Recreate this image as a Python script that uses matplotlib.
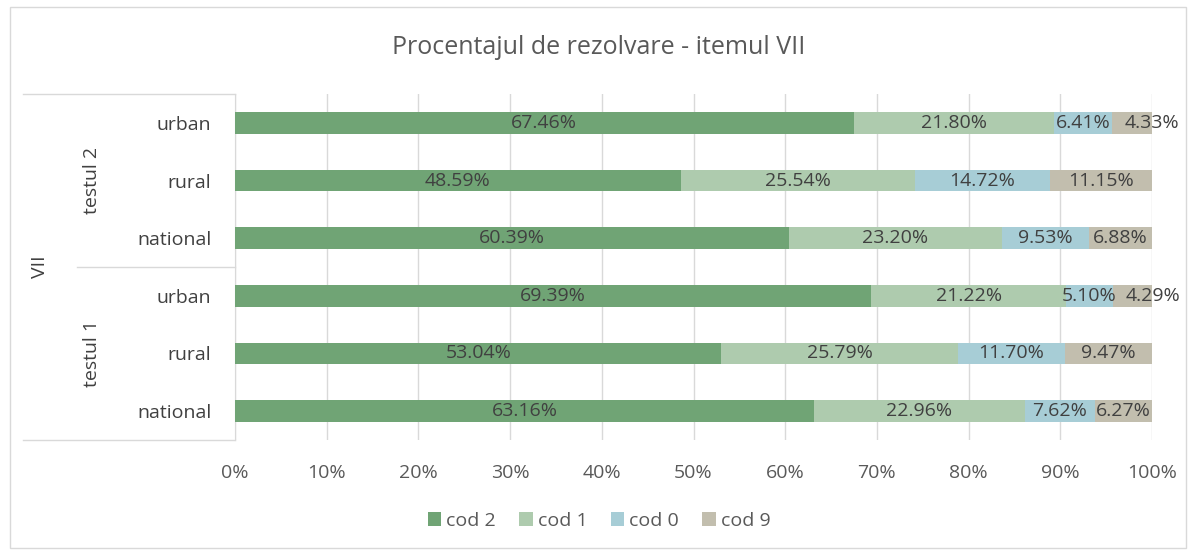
import numpy as np
import matplotlib.pyplot as plt
from matplotlib.lines import Line2D
from matplotlib.patches import Rectangle
import matplotlib.transforms as mtransforms

# categories bottom -> top
categories = ['national', 'rural', 'urban', 'national', 'rural', 'urban']
groups = ['testul 1', 'testul 2']
series = ['cod 2', 'cod 1', 'cod 0', 'cod 9']
cod2 = [63.16, 53.04, 69.39, 60.39, 48.59, 67.46]
cod1 = [22.96, 25.79, 21.22, 23.20, 25.54, 21.80]
cod0 = [7.62, 11.70, 5.10, 9.53, 14.72, 6.41]
cod9 = [6.27, 9.47, 4.29, 6.88, 11.15, 4.33]
colors = ['#70A475', '#AECBAE', '#A7CDD6', '#C2BEAE']

plt.rcParams['font.family'] = ['Open Sans', 'DejaVu Sans']
FS = 14

fig = plt.figure(figsize=(11.98, 5.55), dpi=100)
fig.patches.append(Rectangle((10 / 1198, 7 / 555), 1176 / 1198, 541 / 555,
                             transform=fig.transFigure, fill=False,
                             ec='#D9D9D9', lw=1))
ax = fig.add_axes([235 / 1198, 1 - 440 / 555, 917 / 1198, 346 / 555])

y = np.arange(len(categories))
left = np.zeros(len(categories))
for k, (name, vals, c) in enumerate(zip(series, [cod2, cod1, cod0, cod9], colors)):
    vals = np.array(vals)
    ax.barh(y, vals, left=left, height=0.38, color=c, label=name, zorder=3)
    for yi, l, v in zip(y, left, vals):
        xc = l + v / 2
        # last label pushed outward when segment is too narrow (as Excel does)
        if k == 3 and v < 5:
            xc += 2.2
        ax.text(xc, yi, '%.2f%%' % v, ha='center', va='center',
                fontsize=FS, color='#404040', zorder=4)
    left += vals

ax.set_xlim(0, 100)
ax.set_ylim(-0.5, len(categories) - 0.5)
ax.set_xticks(np.arange(0, 101, 10))
ax.set_xticklabels(['%d%%' % t for t in range(0, 101, 10)], fontsize=FS, color='#595959')
ax.set_yticks(y)
ax.set_yticklabels(categories, fontsize=FS, color='#404040')
ax.tick_params(axis='both', length=0)
ax.tick_params(axis='x', pad=17)
ax.tick_params(axis='y', pad=17)
ax.grid(axis='x', color='#D9D9D9', lw=1, zorder=0)
for s in ['top', 'right', 'bottom']:
    ax.spines[s].set_visible(False)
ax.spines['left'].set_color('#D9D9D9')

# multi-level category axis
trans = mtransforms.blended_transform_factory(fig.transFigure, ax.transData)
for xs, yy in [((23, 235), -0.5), ((23, 235), 5.5), ((77, 235), 2.5)]:
    ax.add_line(Line2D([xs[0] / 1198, xs[1] / 1198], [yy, yy], transform=trans,
                       color='#D9D9D9', lw=1, clip_on=False))
ax.text(92 / 1198, 1, groups[0], transform=trans, rotation=90,
        ha='center', va='center', fontsize=FS, color='#404040')
ax.text(92 / 1198, 4, groups[1], transform=trans, rotation=90,
        ha='center', va='center', fontsize=FS, color='#404040')
ax.text(40 / 1198, 2.5, 'VII', transform=trans, rotation=90,
        ha='center', va='center', fontsize=FS, color='#404040')

fig.text(0.5, 1 - 48 / 555, 'Procentajul de rezolvare - itemul VII',
         ha='center', va='center', fontsize=18, color='#595959')

ax.legend(loc='center', bbox_to_anchor=(0.5, 1 - 521 / 555), bbox_transform=fig.transFigure,
          ncol=4, frameon=False, fontsize=FS, handlelength=0.7, handleheight=0.7,
          handletextpad=0.25, columnspacing=1.2, labelcolor='#595959')

fig.savefig('out.png', dpi=100)
